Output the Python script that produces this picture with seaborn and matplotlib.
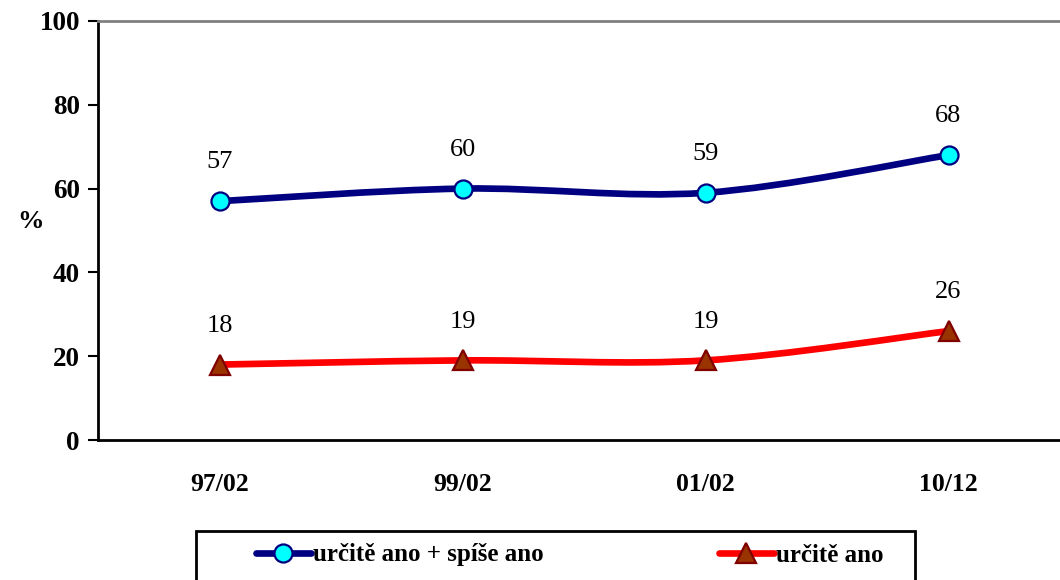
import numpy as np
import matplotlib
matplotlib.use("Agg")
import matplotlib.pyplot as plt
import seaborn as sns
from matplotlib.path import Path
from matplotlib.patches import PathPatch, Rectangle
from matplotlib.lines import Line2D

periods = ["97/02", "99/02", "01/02", "10/12"]
yes_total = [57, 60, 59, 68]
yes_sure = [18, 19, 19, 26]
series_names = ["určitě ano + spíše ano", "určitě ano"]
y_ticks = [0, 20, 40, 60, 80, 100]

NAVY = "#000080"
CYAN = "#00FFFF"
RED = "#FF0000"
BROWN = "#993300"
DARKRED = "#800000"


def smooth_path(xs, ys):
    # Excel-like smoothing: cubic Bezier segments with Catmull-Rom control points
    pts = np.column_stack([xs, ys]).astype(float)
    ext = np.vstack([pts[0], pts, pts[-1]])
    verts = [pts[0]]
    codes = [Path.MOVETO]
    for i in range(1, len(ext) - 2):
        p0, p1, p2, p3 = ext[i - 1], ext[i], ext[i + 1], ext[i + 2]
        c1 = p1 + (p2 - p0) / 6.0
        c2 = p2 - (p3 - p1) / 6.0
        verts += [c1, c2, p2]
        codes += [Path.CURVE4] * 3
    return Path(verts, codes)


sns.set_style("white")
plt.rcParams["font.family"] = ["Liberation Serif", "DejaVu Serif"]
plt.rcParams["text.color"] = "black"
plt.rcParams["xtick.color"] = "black"
plt.rcParams["ytick.color"] = "black"
plt.rcParams["axes.labelcolor"] = "black"

fig = plt.figure(figsize=(10.6, 5.8), dpi=100)
ax = fig.add_axes([98 / 1060, 1 - 440 / 580, 972 / 1060, 419 / 580])

x = np.arange(len(periods))
styles = [
    dict(vals=yes_total, line=NAVY, marker="o", face=CYAN, edge=NAVY, ms=13),
    dict(vals=yes_sure, line=RED, marker="^", face=BROWN, edge=DARKRED, ms=14),
]

handles = []
for st, name in zip(styles, series_names):
    ax.add_patch(PathPatch(smooth_path(x, st["vals"]), facecolor="none",
                           edgecolor=st["line"], lw=4.8, capstyle="round", zorder=2))
    sns.lineplot(x=x, y=st["vals"], ax=ax, linestyle="", marker=st["marker"],
                 markersize=st["ms"], markerfacecolor=st["face"],
                 markeredgecolor=st["edge"], markeredgewidth=1.6, zorder=3)
    for xi, v in zip(x, st["vals"]):
        ax.annotate(f"{v}", (xi, v), xytext=(0, 28), textcoords="offset points",
                    ha="center", va="center", fontsize=19, color="black")
    handles.append(Line2D([], [], color=st["line"], lw=4.8, marker=st["marker"],
                          markersize=st["ms"], markerfacecolor=st["face"],
                          markeredgecolor=st["edge"], markeredgewidth=1.6,
                          solid_capstyle="round"))

ax.set_xlim(-0.5, len(periods) - 0.5)
ax.set_ylim(0, 100)
ax.set_yticks(y_ticks)
ax.set_yticklabels([str(t) for t in y_ticks], fontsize=19.5, fontweight="bold")
ax.set_xticks(x)
ax.set_xticklabels(periods, fontsize=18.5, fontweight="bold")
ax.set_xticks(np.arange(len(periods) + 1) - 0.5, minor=True)
ax.tick_params(axis="x", which="major", length=0, pad=24)
ax.tick_params(axis="x", which="minor", length=7, width=1.5, color="black", direction="out")
ax.tick_params(axis="y", length=7, width=1.5, color="black", direction="out", pad=6, left=True)
ax.set_xlabel("")
ax.set_ylabel("")

for side in ["left", "bottom"]:
    ax.spines[side].set_color("black")
    ax.spines[side].set_linewidth(2)
ax.spines["top"].set_color("#808080")
ax.spines["top"].set_linewidth(2)
ax.spines["right"].set_visible(False)

fig.text(30 / 1060, 1 - 222 / 580, "%", fontsize=19, fontweight="bold",
         ha="center", va="center", color="black")

fig.add_artist(Rectangle((196 / 1060, -0.05), 719 / 1060, 0.05 + 1 - 531 / 580,
                         transform=fig.transFigure, facecolor="white",
                         edgecolor="black", lw=2, zorder=5))
fig.legend(handles, series_names, loc="center left",
           bbox_to_anchor=(233 / 1060, 1 - 555 / 580), ncol=2, frameon=False,
           prop={"weight": "bold", "size": 18}, handlelength=2.2,
           handletextpad=0.1, columnspacing=7.0)

fig.savefig("out.png", dpi=100)
